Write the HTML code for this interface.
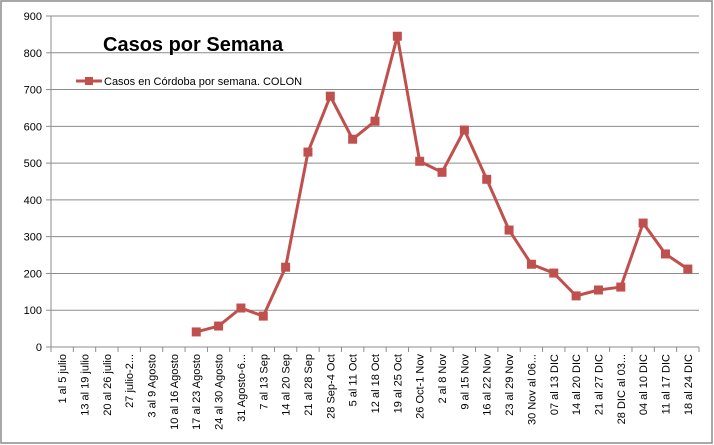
<!DOCTYPE html>
<html><head><meta charset="utf-8"><style>
html,body{margin:0;padding:0;background:#fff;}
svg{display:block;font-family:"Liberation Sans",Calibri,sans-serif;}
</style></head><body>
<svg width="714" height="445" viewBox="0 0 714 445">
<rect x="1" y="1" width="711" height="442" fill="#fff" stroke="#8c8c8c" stroke-width="1.5"/>
<g id="grid"></g>
<g id="yax"></g>
<g id="xax"></g>
<g id="series"></g>
<text x="103" y="51" font-size="20" font-weight="bold" fill="#000">Casos por Semana</text>
<g>
<line x1="76" y1="81" x2="102" y2="81" stroke="#c0504d" stroke-width="3"/>
<rect x="85" y="77" width="8" height="8" fill="#c0504d"/>
<text x="104" y="85" font-size="11" fill="#000">Casos en Córdoba por semana. COLON</text>
</g>
</svg>
<script>
const categories=["1 al 5 julio","13 al 19 julio","20 al 26 julio","27 julio-2...","3 al 9 Agosto","10 al 16 Agosto","17 al 23 Agosto","24 al 30 Agosto","31 Agosto-6...","7 al 13 Sep","14 al 20 Sep","21 al 28 Sep","28 Sep-4 Oct","5 al 11 Oct","12 al 18 Oct","19 al 25 Oct","26 Oct-1 Nov","2 al 8 Nov","9 al 15 Nov","16 al 22 Nov","23 al 29 Nov","30 Nov al 06...","07 al 13 DIC","14 al 20 DIC","21 al 27 DIC","28 DIC al 03...","04 al 10 DIC","11 al 17 DIC","18 al 24 DIC"];
const values=[null,null,null,null,null,null,41,57,106,84,217,530,682,565,614,845,505,475,590,456,318,225,201,139,155,163,337,253,212];
const yTicks=[0,100,200,300,400,500,600,700,800,900];
const NS="http://www.w3.org/2000/svg";
const X0=51,X1=699,Y0=347,Y1=16,YMAX=900;
const step=(X1-X0)/categories.length;
const xs=i=>X0+step*(i+0.5);
const ys=v=>Y0-(v/YMAX)*(Y0-Y1);
function mk(t,a,p){const e=document.createElementNS(NS,t);for(const k in a)e.setAttribute(k,a[k]);p.appendChild(e);return e;}
const grid=document.getElementById('grid'),yax=document.getElementById('yax'),xax=document.getElementById('xax'),ser=document.getElementById('series');
yTicks.forEach(v=>{const y=ys(v);
 if(v>0){const g=mk('line',{x1:X0,x2:X1,y1:y,y2:y,stroke:'#8c8c8c','stroke-width':1},grid);
 
 }
 mk('line',{x1:X0-5,x2:X0,y1:y,y2:y,stroke:'#8c8c8c'},yax);
 const t=mk('text',{x:X0-9,y:y+4,'text-anchor':'end','font-size':11,fill:'#000'},yax);t.textContent=v;
 
 
});
mk('line',{x1:X0,x2:X0,y1:Y1,y2:Y0,stroke:'#8c8c8c'},yax);
mk('line',{x1:X0,x2:X1,y1:Y0,y2:Y0,stroke:'#8c8c8c'},xax);
for(let i=0;i<=categories.length;i++){const x=X0+step*i;mk('line',{x1:x,x2:x,y1:Y0,y2:Y0+5,stroke:'#8c8c8c'},xax);}
categories.forEach((c,i)=>{const x=xs(i)+4;
 const t=mk('text',{x:0,y:0,'text-anchor':'end','font-size':11,fill:'#000',transform:`translate(${x},${Y0+7}) rotate(-90)`},xax);t.textContent=c;
 
 
});
let pts=[];values.forEach((v,i)=>{if(v!=null)pts.push(xs(i)+','+ys(v));});
const pl=mk('polyline',{points:pts.join(' '),fill:'none',stroke:'#c0504d','stroke-width':3,'stroke-linejoin':'round'},ser);


values.forEach((v,i)=>{if(v==null)return;
 const r=mk('rect',{x:xs(i)-4.5,y:ys(v)-4.5,width:9,height:9,fill:'#c0504d'},ser);
 
 
});
</script>
</body></html>
